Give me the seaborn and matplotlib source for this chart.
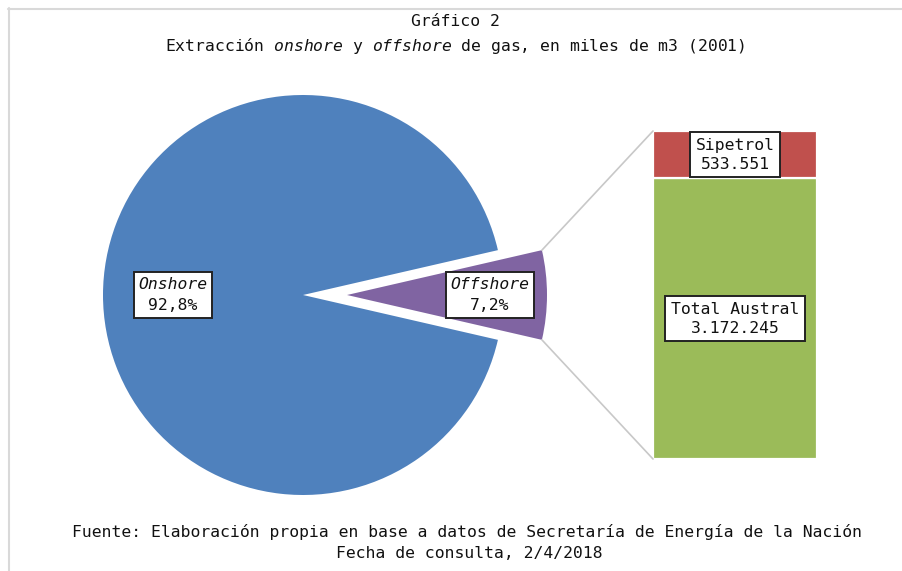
import matplotlib
matplotlib.use("Agg")
import matplotlib.pyplot as plt
import seaborn as sns
import numpy as np
from matplotlib.patches import ConnectionPatch
from matplotlib.lines import Line2D
from matplotlib.offsetbox import TextArea, VPacker, AnnotationBbox

# ---- data ----
pie_labels = ["Onshore", "Offshore"]
pie_shares = [92.8, 7.2]
pie_share_text = ["92,8%", "7,2%"]
bar_labels = ["Total Austral", "Sipetrol"]
bar_values = [3172245, 533551]
bar_value_text = ["3.172.245", "533.551"]

pie_colors = ["#4F81BD", "#8064A2"]
bar_colors = ["#9BBB59", "#C0504D"]

sns.set_theme(style="white")
plt.rcParams["font.family"] = ["DejaVu Sans Mono", "DejaVu Sans"]
plt.rcParams["mathtext.fontset"] = "custom"
plt.rcParams["mathtext.rm"] = "DejaVu Sans Mono"
plt.rcParams["mathtext.it"] = "DejaVu Sans Mono:italic"

W, H = 902, 571
fig = plt.figure(figsize=(W / 100, H / 100), dpi=100)
fig.patch.set_facecolor("white")

FS = 11.8

def fx(px):
    return px / W

def fy(py):
    return 1 - py / H

# pie axes: circle centre (303,295), radius 200 px
ax_pie = fig.add_axes([fx(103), fy(495), 460 / W, 400 / H])
offshore_angle = pie_shares[1] / sum(pie_shares) * 360
start = offshore_angle / 2
explode = [0, 0.22]
wedges, _ = ax_pie.pie(pie_shares, colors=pie_colors, startangle=start,
                       explode=explode, counterclock=True, radius=1.0,
                       wedgeprops=dict(linewidth=0))
ax_pie.set_xlim(-1, 1.3)
ax_pie.set_ylim(-1, 1)
ax_pie.set_aspect("equal")
ax_pie.axis("off")

box = dict(boxstyle="square,pad=0.35", facecolor="white", edgecolor="#222222",
           linewidth=1.4)
label_x = [-0.65, 0.935]
for lab, txt, x in zip(pie_labels, pie_share_text, label_x):
    t1 = TextArea(lab, textprops=dict(fontsize=FS, fontstyle="italic",
                                      color="#111111"))
    t2 = TextArea(txt, textprops=dict(fontsize=FS, color="#111111"))
    pack = VPacker(children=[t1, t2], align="center", pad=0, sep=5)
    ab = AnnotationBbox(pack, (x, 0), xycoords="data", frameon=True,
                        box_alignment=(0.5, 0.5), pad=0.42,
                        bboxprops=dict(boxstyle="square", facecolor="white",
                                       edgecolor="#222222", linewidth=1.4))
    ax_pie.add_artist(ab)

# bar axes
ax_bar = fig.add_axes([fx(653), fy(459), (817 - 653) / W, (459 - 131) / H])
bottom = 0
for lab, val, vt, col in zip(bar_labels, bar_values, bar_value_text, bar_colors):
    ax_bar.bar([0], [val], bottom=bottom, width=1.0, color=col,
               edgecolor="white", linewidth=1.6)
    ax_bar.text(0, bottom + val / 2, lab + "\n" + vt, color="#111111", bbox=box,
                ha="center", va="center", fontsize=FS, linespacing=1.35,
                multialignment="center")
    bottom += val
ax_bar.set_xlim(-0.5, 0.5)
ax_bar.set_ylim(0, sum(bar_values))
ax_bar.axis("off")

# connection lines
theta1 = np.deg2rad(start)
cx = explode[1]
x_top = cx + np.cos(theta1)
y_top = np.sin(theta1)
for ytarget, ysrc in [(sum(bar_values), y_top), (0, -y_top)]:
    con = ConnectionPatch(xyA=(-0.5, ytarget), coordsA=ax_bar.transData,
                          xyB=(x_top, ysrc), coordsB=ax_pie.transData,
                          color="#C8C8C8", linewidth=1.2)
    fig.add_artist(con)

# titles
fig.text(fx(455), fy(22), "Gráfico 2", ha="center", va="center", fontsize=FS,
         color="#111111")
fig.text(fx(455), fy(46),
         "Extracción $\\it{onshore}$ y $\\it{offshore}$ de gas, en miles de m3 (2001)",
         ha="center", va="center", fontsize=FS, color="#111111")
fig.text(fx(467), fy(532),
         "Fuente: Elaboración propia en base a datos de Secretaría de Energía de la Nación",
         ha="center", va="center", fontsize=FS, color="#111111")
fig.text(fx(469), fy(553), "Fecha de consulta, 2/4/2018", ha="center", va="center",
         fontsize=FS, color="#111111")

# frame lines (top and left)
fig.add_artist(Line2D([fx(8), 1], [fy(8.5), fy(8.5)], color="#D9D9D9", linewidth=1.5))
fig.add_artist(Line2D([fx(8.5), fx(8.5)], [fy(8), 0], color="#D9D9D9", linewidth=1.5))

fig.savefig("out.png", dpi=100, facecolor="white")
